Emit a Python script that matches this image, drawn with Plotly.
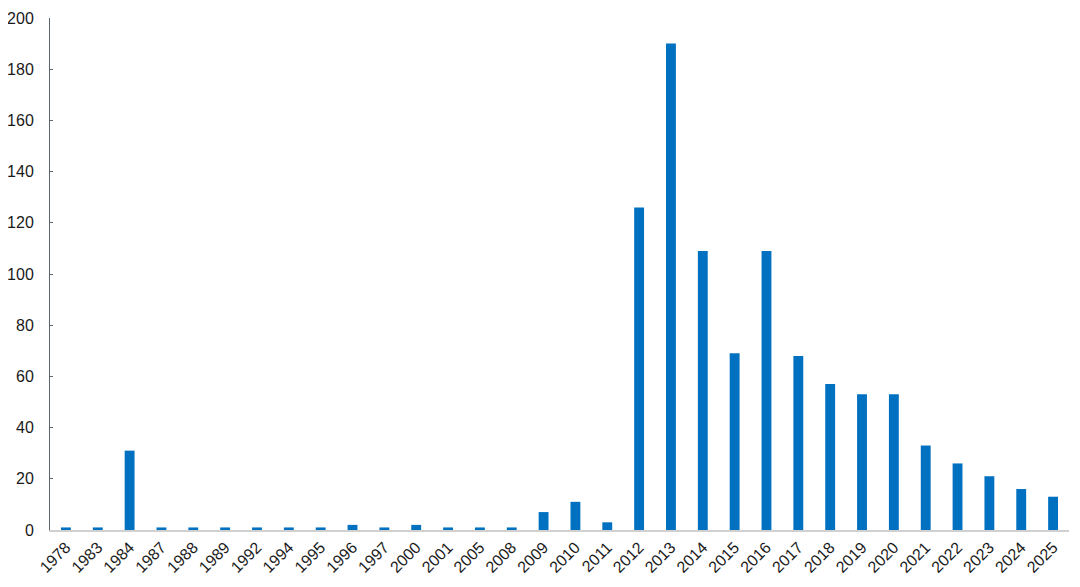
import plotly.graph_objects as go

years = ["1978", "1983", "1984", "1987", "1988", "1989", "1992", "1994", "1995", "1996",
         "1997", "2000", "2001", "2005", "2008", "2009", "2010", "2011", "2012", "2013",
         "2014", "2015", "2016", "2017", "2018", "2019", "2020", "2021", "2022", "2023",
         "2024", "2025"]
counts = [1, 1, 31, 1, 1, 1, 1, 1, 1, 2,
          1, 2, 1, 1, 1, 7, 11, 3, 126, 190,
          109, 69, 109, 68, 57, 53, 53, 33, 26, 21,
          16, 13]
y_ticks = [0, 20, 40, 60, 80, 100, 120, 140, 160, 180, 200]

fig = go.Figure(go.Bar(x=years, y=counts, marker=dict(color="#0070C0", line=dict(width=0)),
                       width=0.31))

# page body has an 8px margin, so the figure is sized/offset to compensate
fig.update_layout(
    width=1064, height=571,
    margin=dict(l=42, r=3, t=10, b=49, autoexpand=False),
    plot_bgcolor="white", paper_bgcolor="white",
    showlegend=False,
    font=dict(family="Liberation Sans, Arial, sans-serif", color="#1a1a1a"),
)
fig.update_xaxes(
    type="category", tickangle=-45, tickfont=dict(size=16),
    showline=True, linecolor="#D0D0D0", linewidth=1.5,
    showgrid=False, ticks="", range=[-0.5, 31.5], automargin=False,
)
fig.update_yaxes(
    range=[0, 200], tickvals=y_ticks, tickfont=dict(size=16),
    showline=True, linecolor="#5A6670", linewidth=1,
    ticks="inside", ticklen=3, tickcolor="#5A6670",
    showgrid=False, zeroline=False, ticklabelstandoff=12, automargin=False,
)

fig.write_html("out.html")
